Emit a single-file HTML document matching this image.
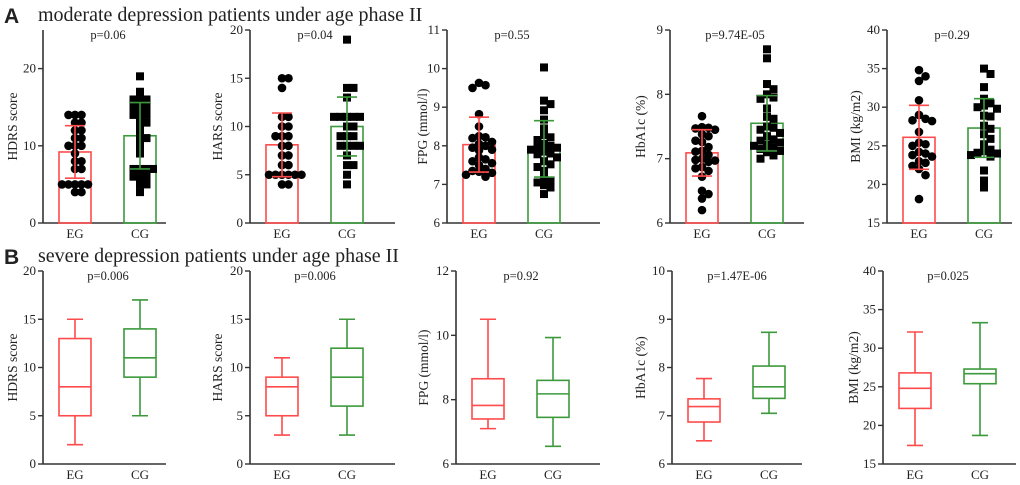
<!DOCTYPE html>
<html><head><meta charset="utf-8"><style>
body{margin:0;background:#fff;}
svg{display:block;}
text{font-family:"Liberation Serif",serif;fill:#222;}
</style></head><body>
<svg id="fig" width="1020" height="485" viewBox="0 0 1020 485" xmlns="http://www.w3.org/2000/svg">
<text x="4" y="23" style="font-family:'Liberation Sans',sans-serif;font-weight:bold;font-size:21px">A</text>
<text x="38" y="21" style="font-size:20px">moderate depression patients under age phase II</text>
<text x="4" y="264" style="font-family:'Liberation Sans',sans-serif;font-weight:bold;font-size:21px">B</text>
<text x="38" y="262" style="font-size:20px">severe depression patients under age phase II</text>
</svg>
<script>
// ---- data: top bar/scatter panels ----
const groups = ["EG","CG"];
const topTitles = ["HDRS score","HARS score","FPG (mmol/l)","HbA1c (%)","BMI (kg/m2)"];
const topP = ["p=0.06","p=0.04","p=0.55","p=9.74E-05","p=0.29"];
const topRange = [[0,25],[0,20],[6,11],[6,9],[15,40]];
const topTicks = [[0,10,20],[0,5,10,15,20],[6,7,8,9,10,11],[6,7,8,9],[15,20,25,30,35,40]];
const egMean = [9.2,8.1,8.03,7.09,26.1];
const egSD = [3.4,3.3,0.71,0.36,4.15];
const cgMean = [11.3,10.0,7.92,7.55,27.3];
const cgSD = [4.3,3.05,0.73,0.43,3.8];
const egPts1 = [14,14,14,13,13,12,12,11,11,10,10,10,9,8,8,7,7,5,5,5,5,5,4,4];
const cgPts1 = [19,17,16,16,16,15,15,15,14,14,14,13,13,12,11,11,10,9,7,7,7,7,6,6,6,5,5,4];
const egPts2 = [15,15,14,11,11,10,10,9,9,9,8,8,7,7,6,6,5,5,5,5,5,5,4,4];
const cgPts2 = [19,14,14,13,11,11,11,11,11,10,10,9,9,9,8,8,8,8,7,6,6,5,4];
const egPts3 = [9.63,9.57,9.5,8.82,8.5,8.25,8.22,8.2,8.1,8.05,8.0,7.95,7.9,7.88,7.7,7.65,7.6,7.55,7.5,7.4,7.35,7.33,7.3,7.25,7.2];
const cgPts3 = [10.03,9.17,9.08,8.92,8.68,8.45,8.28,8.22,8.15,8.05,8.0,7.98,7.95,7.9,7.85,7.8,7.78,7.7,7.6,7.52,7.45,7.35,7.15,7.1,7.05,6.98,6.92,6.75];
const egPts4 = [7.66,7.49,7.48,7.47,7.45,7.38,7.35,7.28,7.26,7.18,7.12,7.11,7.06,7.0,6.98,6.97,6.95,6.87,6.85,6.81,6.72,6.5,6.45,6.38,6.2];
const cgPts4 = [8.7,8.56,8.16,8.08,8.0,7.95,7.93,7.78,7.65,7.62,7.5,7.48,7.45,7.4,7.35,7.3,7.28,7.25,7.22,7.2,7.18,7.15,7.12,7.1,7.05,7.0];
const egPts5 = [34.8,34,33.4,30.9,29,28.5,28.3,28.2,26.8,25.4,25.2,25,24.2,24,23.8,23.6,23,22.8,22.4,22,21.2,18.1];
const cgPts5 = [35,34.3,32.6,31.1,30.5,30.2,30,29.8,28.9,28.8,27.6,27.2,26.5,25.9,25.2,24.5,24.3,24.1,24,23.8,23.6,21.8,20.5,19.6];
const egPts = [egPts1,egPts2,egPts3,egPts4,egPts5];
const cgPts = [cgPts1,cgPts2,cgPts3,cgPts4,cgPts5];
// ---- data: bottom box panels [min,q1,median,q3,max] ----
const botP = ["p=0.006","p=0.006","p=0.92","p=1.47E-06","p=0.025"];
const botRange = [[0,20],[0,20],[6,12],[6,10],[15,40]];
const botTicks = [[0,5,10,15,20],[0,5,10,15,20],[6,8,10,12],[6,7,8,9,10],[15,20,25,30,35,40]];
const egBox = [[2,5,8,13,15],[3,5,8,9,11],[7.1,7.4,7.82,8.65,10.5],[6.48,6.87,7.19,7.35,7.77],[17.4,22.2,24.8,26.8,32.1]];
const cgBox = [[5,9,11,14,17],[3,6,9,12,15],[6.55,7.45,8.18,8.6,9.93],[7.05,7.36,7.6,8.03,8.73],[18.7,25.4,26.7,27.3,33.3]];

// ---- layout ----
const RED="#ff4b4b", GREEN="#3c9a3c", INK="#333";
const topAxisX=[43,250,447,670,887], topEnd=[166,395,600,804,1012], topTitleOff=[-26,-28,-20,-25,-27];
const botAxisX=[43,250,456,672,883], botEnd=[166,395,600,802,1016], botTitleOff=[-26,-28,-28,-27,-25];
const svg=document.getElementById('fig');
const NS="http://www.w3.org/2000/svg";
function mk(tag,attrs,parent){const e=document.createElementNS(NS,tag);for(const k in attrs)e.setAttribute(k,attrs[k]);(parent||svg).appendChild(e);return e;}
function txt(x,y,s,size,anchor,parent){const t=mk('text',{x:x,y:y,'font-size':size,'text-anchor':anchor},parent);t.textContent=s;return t;}

function axes(g,ax,end,y0,y1,range,ticks,title,tOff,p,yScale){
  const a=mk('line',{x1:ax,y1:y1,x2:ax,y2:y0,stroke:INK,'stroke-width':1.6},g);
  
  
  const b=mk('line',{x1:ax,y1:y0,x2:end,y2:y0,stroke:INK,'stroke-width':1.6},g);
  
  
  ticks.forEach(v=>{const y=yScale(v);
    mk('line',{x1:ax-5,y1:y,x2:ax,y2:y,stroke:INK,'stroke-width':1.4},g);
    const t=txt(ax-7,y+4,String(v),13,'end',g);
    
    
  });
  const cy=(y0+y1)/2;
  const tt=mk('text',{x:ax+tOff,y:cy,'font-size':13.5,'text-anchor':'middle',transform:`rotate(-90 ${ax+tOff} ${cy})`},g);
  tt.textContent=title;
  
  
  groups.forEach((gname,i)=>{const cx=ax+32+i*65;
    const t=txt(cx,y0+15,gname,13,'middle',g);
    
    
  });
  const pt=txt(ax+65,y1+9,p,12.5,'middle',g);
  
  
}

// top panels
for(let k=0;k<5;k++){
  const g=mk('g',{});
  
  
  const ax=topAxisX[k],y0=223,y1=30,[lo,hi]=topRange[k];
  const yS=v=>y0-(v-lo)/(hi-lo)*(y0-y1);
  axes(g,ax,topEnd[k],y0,y1,topRange[k],topTicks[k],topTitles[k],topTitleOff[k],topP[k],yS);
  [[egMean[k],egSD[k],egPts[k],RED,'eg'],[cgMean[k],cgSD[k],cgPts[k],GREEN,'cg']].forEach(([m,sd,pts,col,nm],i)=>{
    const cx=ax+32+i*65;
    const bar=mk('rect',{x:cx-16,y:yS(m),width:32,height:y0-yS(m),fill:'none',stroke:col,'stroke-width':1.6},g);
    
    
    const placed=[];
    pts.forEach(v=>{const y=yS(v);let dx=0,best=null;
      for(let s=0;s<9;s++){const c=s===0?0:(s%2?1:-1)*Math.ceil(s/2)*6.5;
        if(!placed.some(p=>Math.hypot(p[0]-c,p[1]-y)<6.5)){best=c;break;}}
      dx=best===null?0:best;
      placed.push([dx,y]);
      let mkEl;
      if(i===0){mkEl=mk('circle',{cx:cx+dx,cy:y,r:4.3,fill:'#000'},g);}
      else{mkEl=mk('rect',{x:cx+dx-4,y:y-4,width:8,height:8,fill:'#000'},g);}
      
      
    });
    const yt=yS(m+sd),yb=yS(m-sd);
    const eb=mk('path',{d:`M${cx},${yt}V${yb}M${cx-10},${yt}H${cx+10}M${cx-10},${yb}H${cx+10}`,stroke:col,'stroke-width':1.6,fill:'none'},g);
    
    
  });
}
// bottom panels
for(let k=0;k<5;k++){
  const g=mk('g',{});
  
  
  const ax=botAxisX[k],y0=464,y1=271,[lo,hi]=botRange[k];
  const yS=v=>y0-(v-lo)/(hi-lo)*(y0-y1);
  axes(g,ax,botEnd[k],y0,y1,botRange[k],botTicks[k],topTitles[k],botTitleOff[k],botP[k],yS);
  [[egBox[k],RED,'eg'],[cgBox[k],GREEN,'cg']].forEach(([b,col,nm],i)=>{
    const cx=ax+32+i*65;
    const [mn,q1,md,q3,mx]=b.map(yS);
    const box=mk('rect',{x:cx-16,y:q3,width:32,height:q1-q3,fill:'none',stroke:col,'stroke-width':1.6},g);
    
    
    const w=mk('path',{d:`M${cx-16},${md}H${cx+16}M${cx},${q3}V${mx}M${cx},${q1}V${mn}M${cx-8},${mx}H${cx+8}M${cx-8},${mn}H${cx+8}`,stroke:col,'stroke-width':1.6,fill:'none'},g);
    
    
  });
}
</script>
</body></html>
